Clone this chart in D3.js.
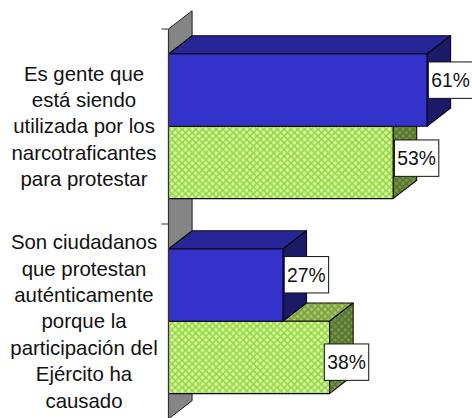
<!DOCTYPE html>
<html><head><meta charset="utf-8">
<script src="https://cdn.jsdelivr.net/npm/d3@7"></script>
<style>html,body{margin:0;padding:0;background:#fff;overflow:hidden}svg{display:block}text{font-family:"Liberation Sans",Arial,sans-serif;fill:#111}</style>
</head><body><script>
const categories = ["A", "B"];
const categoryLines = [
  ["Es gente que","está siendo","utilizada por los","narcotraficantes","para protestar"],
  ["Son ciudadanos","que protestan","auténticamente","porque la","participación del","Ejército ha","causado"]
];
const seriesNames = ["s1", "s2"];
const seriesValues = [[61, 53], [27, 38]];
const valueLabels = [["61%", "53%"], ["27%", "38%"]];

const W = 472, H = 418;
const dx = 23.6, dy = -18.3;
const x0 = 168.5;
const x = d3.scaleLinear().domain([0, 61]).range([x0, 427]);
const y = d3.scaleBand().domain(categories).range([29, 419]);
const inner = d3.scaleBand().domain(seriesNames).range([25, 169.6]);
// hand-placed label offsets from the bar end / bar centre
const nudge = [[[23.5,-10],[23.5,-4.3]],[[23.5,-10.4],[17,4.7]]];
const lineH = 26.35;
const labelTop = [80.5, 249.4];

const svg = d3.select("body").append("svg").attr("width", W).attr("height", H);
const defs = svg.append("defs");
function mkPattern(id, base, dark, light) {
  const T = 6.8, h = T/2, r = 1.9;
  const p = defs.append("pattern").attr("id", id).attr("patternUnits","userSpaceOnUse")
    .attr("width",T).attr("height",T).attr("x",x0).attr("y",0);
  p.append("rect").attr("width",T).attr("height",T).attr("fill",base);
  p.append("path").attr("d",`M0,0L${T},${T}M${T},0L0,${T}`).attr("stroke",dark).attr("stroke-width",1.2);
  [[h,0],[0,h],[T,h],[h,T]].forEach(c => {
    p.append("path").attr("d",`M${c[0]},${c[1]-r}L${c[0]+r},${c[1]}L${c[0]},${c[1]+r}L${c[0]-r},${c[1]}Z`).attr("fill",light);
  });
}
mkPattern("gFront","#b4ea66","#9bd03a","#d0fcb4");
mkPattern("gTop","#8db04e","#7b9d37","#a6c870");
mkPattern("gSide","#62803a","#537326","#78984f");

const poly = pts => "M" + pts.map(p => p.join(",")).join("L") + "Z";
const stroke = "#0a0a0a";

// wall
const yTop = y.range()[0], yBot = y.range()[1];
svg.append("path").attr("d", poly([[x0,yTop],[x0+dx,yTop+dy],[x0+dx,yBot+dy],[x0,yBot]]))
  .attr("fill","#858585").attr("stroke","#222").attr("stroke-width",1);
// ticks
svg.selectAll(".tick").data(y.domain().concat("end")).join("line")
  .attr("x1", x0-7).attr("x2", x0)
  .attr("y1", d => d==="end" ? yBot : y(d)).attr("y2", d => d==="end" ? yBot : y(d))
  .attr("stroke","#333");

const fills = [
  {front:"#3333cc", top:"#262699", side:"#1a1a66"},
  {front:"url(#gFront)", top:"url(#gTop)", side:"url(#gSide)"}
];
categories.forEach((c,ci) => {
  [1,0].forEach(si => {
    const bw = inner.bandwidth();
    const t = y(c) + inner(seriesNames[si]), b = t + bw, r = x(seriesValues[ci][si]);
    const g = svg.append("g").attr("stroke",stroke).attr("stroke-width",1.1).attr("stroke-linejoin","round");
    g.append("path").attr("d", poly([[x0,t],[x0+dx,t+dy],[r+dx,t+dy],[r,t]])).attr("fill",fills[si].top);
    g.append("path").attr("d", poly([[r,t],[r+dx,t+dy],[r+dx,b+dy],[r,b]])).attr("fill",fills[si].side);
    g.append("path").attr("d", poly([[x0,t],[r,t],[r,b],[x0,b]])).attr("fill",fills[si].front);
  });
});
// axis line
svg.append("line").attr("x1",x0).attr("x2",x0).attr("y1",yTop).attr("y2",yBot).attr("stroke","#333").attr("stroke-width",1.2);

// value labels
categories.forEach((c,ci) => seriesNames.forEach((s,si) => {
  const cx = x(seriesValues[ci][si]) + nudge[ci][si][0];
  const cy = y(c) + inner(s) + inner.bandwidth()/2 + nudge[ci][si][1];
  svg.append("rect").attr("x",cx-22.2).attr("y",cy-18.2).attr("width",44.4).attr("height",36.4)
    .attr("fill","#fff").attr("stroke","#111").attr("stroke-width",1);
  svg.append("text").attr("x",cx).attr("y",cy+7).attr("text-anchor","middle").attr("font-size",19.3).text(valueLabels[ci][si]);
}));
// category labels
categoryLines.forEach((lines,ci) => {
  svg.selectAll(null).data(lines).join("text")
    .attr("x",84).attr("y",(d,i)=>labelTop[ci]+i*lineH)
    .attr("text-anchor","middle").attr("font-size",20.4).text(d=>d);
});
</script></body></html>
